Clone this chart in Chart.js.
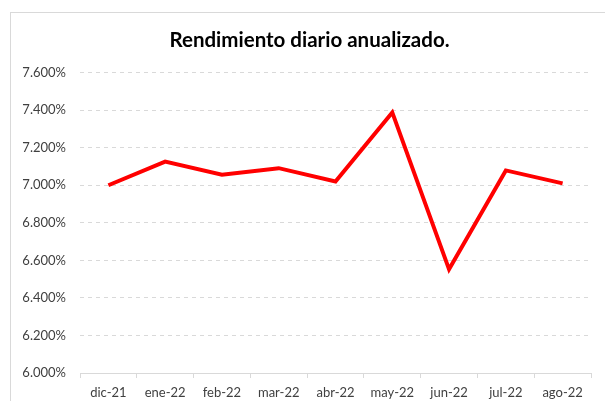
<!DOCTYPE html>
<html>
<head>
<meta charset="utf-8">
<script src="https://cdn.jsdelivr.net/npm/chart.js@4"></script>
<style>
  body { margin: 0; background: #fff; overflow: hidden; }
  #frame { position: absolute; left: 10px; top: 12px; width: 700px; height: 500px; border: 1px solid #d9d9d9; }
  #wrap { position: absolute; left: 0; top: 0; width: 605px; height: 401px; }
</style>
</head>
<body>
<div id="frame"></div>
<div id="wrap"><canvas id="graph-box"></canvas></div>
<script>
const months = ['dic-21', 'ene-22', 'feb-22', 'mar-22', 'abr-22', 'may-22', 'jun-22', 'jul-22', 'ago-22'];
const rendimiento = [7.000, 7.126, 7.056, 7.091, 7.020, 7.388, 6.552, 7.079, 7.010];
const yTicks = [6.0, 6.2, 6.4, 6.6, 6.8, 7.0, 7.2, 7.4, 7.6];

const ctx = document.getElementById('graph-box');

// nudge the title so it centres like the original
const titleShift = {
    id: 'titleShift',
    afterLayout(chart) {
        if (chart.titleBlock) chart.titleBlock.left = 28;
    }
};

const myChart = new Chart(ctx, {
    type: 'line',
    data: {
        labels: months,
        datasets: [{
            label: 'Rendimiento',
            data: rendimiento,
            borderColor: '#ff0000',
            borderWidth: 4,
            pointRadius: 0,
            tension: 0,
            fill: false
        }]
    },
    plugins: [titleShift],
    options: {
        responsive: true,
        maintainAspectRatio: false,
        animation: false,
        layout: {
            padding: { left: 0, right: 14, top: 0, bottom: 0 }
        },
        plugins: {
            legend: { display: false },
            tooltip: { enabled: false },
            title: {
                display: true,
                text: 'Rendimiento diario anualizado.',
                color: '#000000',
                font: { family: 'Lato', size: 20.5, weight: 'bold' },
                padding: { top: 28, bottom: 20 }
            }
        },
        scales: {
            x: {
                offset: true,
                afterFit: (axis) => { axis.height = 28; },
                grid: {
                    offset: true,
                    drawOnChartArea: false,
                    drawTicks: true,
                    tickLength: 5,
                    color: '#d9d9d9'
                },
                border: { display: true, color: '#d9d9d9', width: 1 },
                ticks: {
                    color: '#404040',
                    padding: 7,
                    font: { family: 'Lato', size: 13 }
                }
            },
            y: {
                min: 6.0,
                max: 7.6,
                afterFit: (axis) => { axis.width = 80; },
                afterBuildTicks: (axis) => { axis.ticks = yTicks.map(v => ({ value: v })); },
                grid: {
                    drawTicks: false,
                    color: '#d9d9d9'
                },
                border: { display: false, dash: [4, 4] },
                ticks: {
                    color: '#404040',
                    padding: 14,
                    font: { family: 'Lato', size: 13 },
                    callback: (v) => v.toFixed(3) + '%'
                }
            }
        }
    }
});
</script>
</body>
</html>
